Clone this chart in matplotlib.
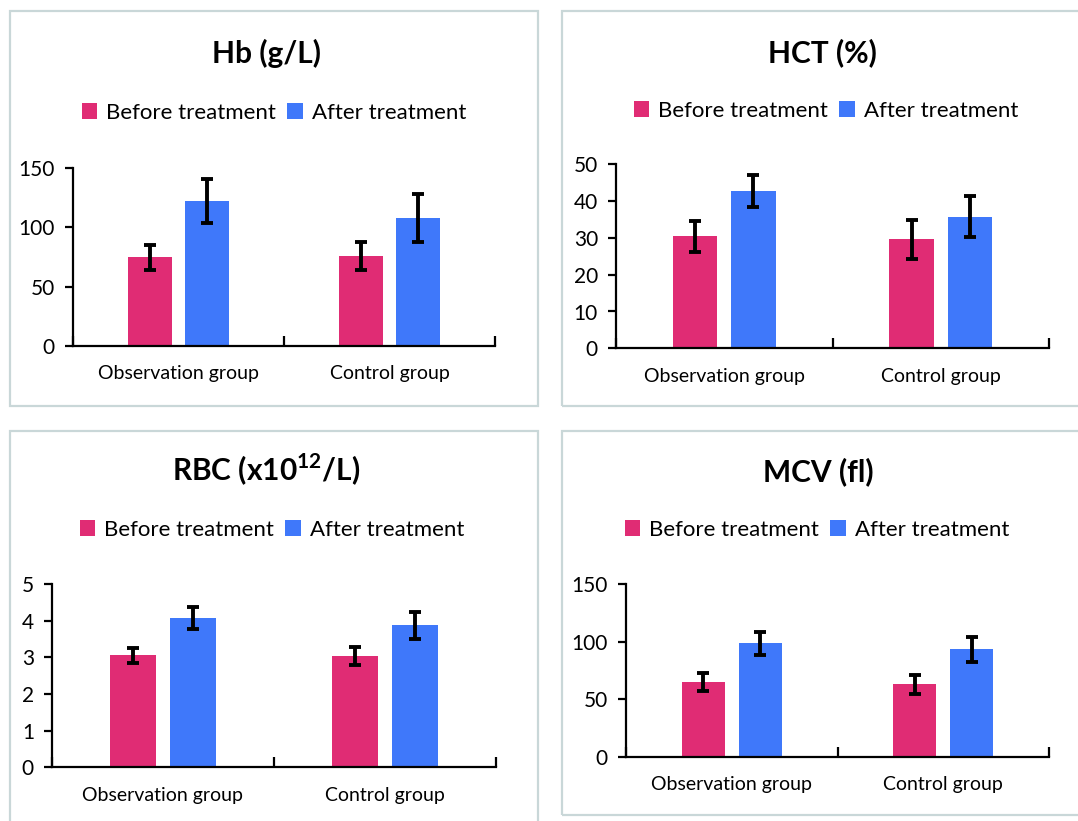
import matplotlib
matplotlib.use("Agg")
import matplotlib.pyplot as plt
from matplotlib.patches import Rectangle, Patch
import numpy as np

plt.rcParams['font.family'] = ['Lato', 'DejaVu Sans']
plt.rcParams['mathtext.fontset'] = 'custom'
plt.rcParams['mathtext.rm'] = 'Lato'
plt.rcParams['mathtext.bf'] = 'Lato:bold'

W, H = 1078, 821
categories = ["Observation group", "Control group"]
series = ["Before treatment", "After treatment"]
colors = ["#E02C74", "#3F78FA"]

titles = ["Hb (g/L)", "HCT (%)", r"RBC (x10$^{\mathbf{12}}$/L)", "MCV (fl)"]

hb_before = [74.7, 75.8]
hb_before_err = [10.8, 11.5]
hb_after = [122.6, 108.0]
hb_after_err = [18.6, 20.0]

hct_before = [30.4, 29.6]
hct_before_err = [4.2, 5.3]
hct_after = [42.8, 35.8]
hct_after_err = [4.4, 5.5]

rbc_before = [3.05, 3.03]
rbc_before_err = [0.21, 0.25]
rbc_after = [4.07, 3.87]
rbc_after_err = [0.30, 0.36]

mcv_before = [64.6, 62.8]
mcv_before_err = [7.8, 8.5]
mcv_after = [98.5, 93.2]
mcv_after_err = [9.8, 11.0]

yticks = [[0, 50, 100, 150], [0, 10, 20, 30, 40, 50], [0, 1, 2, 3, 4, 5], [0, 50, 100, 150]]
ylims = [150, 50, 5, 150]

data = [
    (hb_before, hb_before_err, hb_after, hb_after_err),
    (hct_before, hct_before_err, hct_after, hct_after_err),
    (rbc_before, rbc_before_err, rbc_after, rbc_after_err),
    (mcv_before, mcv_before_err, mcv_after, mcv_after_err),
]

fig = plt.figure(figsize=(W / 100, H / 100), dpi=100)

def fx(x):
    return x / W

def fy(y):
    return 1 - y / H

# panel borders (pixel coords: left, top, right, bottom)
panels = [(10, 11, 538, 406), (562, 11, 1085, 406), (10, 431, 538, 830), (562, 431, 1085, 815)]
for (l, t, r, b) in panels:
    fig.patches.append(Rectangle((fx(l), fy(b)), fx(r) - fx(l), fy(t) - fy(b),
                                 transform=fig.transFigure, fill=False,
                                 edgecolor="#C9D7D8", linewidth=1.6, zorder=0))

# axes rects: left, right, bottom(y of 0), top(y of max)
axes_px = [(73, 495, 345.7, 168.3), (616, 1049, 348.3, 164.3),
           (52, 496, 767.3, 584.0), (626, 1049, 756.7, 584.0)]
title_pos = [(266, 53), (822, 53), (266, 470), (818, 472)]
legend_pos = [(274, 113), (826, 111), (272, 530), (817, 530)]

bw = 0.205
off = 0.135
x = np.arange(len(categories)) + 0.5

for i in range(4):
    l, r, b, t = axes_px[i]
    ax = fig.add_axes([fx(l), fy(b), fx(r) - fx(l), fy(t) - fy(b)])
    bef, bef_e, aft, aft_e = data[i]
    ax.bar(x - off, bef, bw, color=colors[0], zorder=2)
    ax.bar(x + off, aft, bw, color=colors[1], zorder=2)
    ax.errorbar(x - off, bef, yerr=bef_e, fmt='none', ecolor='black',
                elinewidth=2.8, capsize=4, capthick=2.8, zorder=3)
    ax.errorbar(x + off, aft, yerr=aft_e, fmt='none', ecolor='black',
                elinewidth=2.8, capsize=4, capthick=2.8, zorder=3)
    ax.set_xlim(0, 2)
    ax.set_ylim(0, ylims[i])
    ax.set_yticks(yticks[i])
    ax.tick_params(axis='y', direction='out', length=6, width=1.6, labelsize=15, pad=7)
    ax.set_xticks([0, 1, 2])
    ax.set_xticklabels([])
    ax.tick_params(axis='x', which='major', direction='in', length=7, width=1.6)
    ax.set_xticks(x, minor=True)
    ax.set_xticklabels(categories, minor=True)
    ax.tick_params(axis='x', which='minor', length=0, labelsize=14, pad=14)
    for s in ['top', 'right']:
        ax.spines[s].set_visible(False)
    for s in ['left', 'bottom']:
        ax.spines[s].set_linewidth(1.6)
        ax.spines[s].set_color('black')
    ax.set_facecolor('none')

    tx, ty = title_pos[i]
    fig.text(fx(tx), fy(ty), titles[i], ha='center', va='center',
             fontsize=21.5, fontweight='bold')

    lx, ly = legend_pos[i]
    handles = [Patch(facecolor=colors[0]), Patch(facecolor=colors[1])]
    fig.legend(handles, series, loc='center', bbox_to_anchor=(fx(lx), fy(ly)),
               ncol=2, frameon=False, fontsize=16, handlelength=0.7,
               handleheight=0.7, handletextpad=0.4, columnspacing=0.5)

fig.savefig("out.png", dpi=100)
